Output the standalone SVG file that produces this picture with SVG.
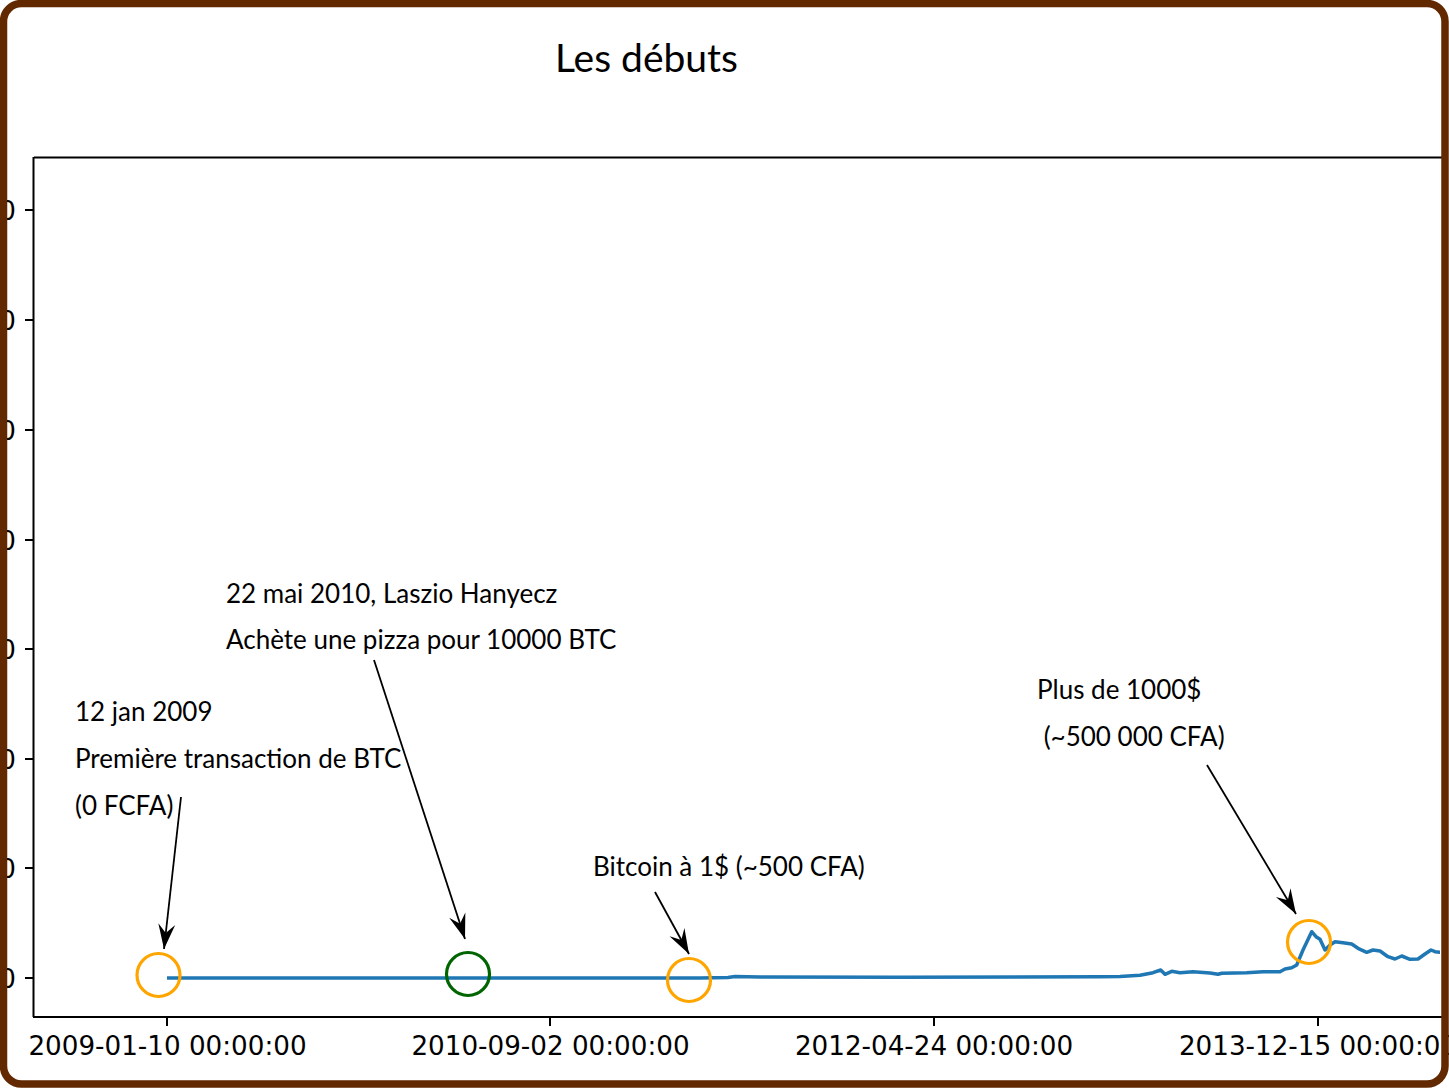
<svg xmlns="http://www.w3.org/2000/svg" width="1449" height="1088" viewBox="0 0 1449 1088">
<style>
.ann{font-family:Lato,"Liberation Sans",sans-serif;font-size:26px;fill:#000}
.tick{font-family:"DejaVu Sans",sans-serif;font-size:26.2px;fill:#000}
.spine{stroke:#000;stroke-width:2;fill:none}
.arr{stroke:#000;stroke-width:1.8;fill:none;marker-end:url(#ah)}
.ring{fill:none;stroke-width:3.2}
</style>
<defs>
<marker id="ah" markerUnits="userSpaceOnUse" markerWidth="30" markerHeight="20" viewBox="-26 -10 28 20" refX="0" refY="0" orient="auto">
<path d="M0,0 L-25,-8.5 L-16,0 L-25,8.5 Z" fill="#000"/>
</marker>
<clipPath id="plot"><rect x="34" y="157" width="1406" height="860"/></clipPath>
</defs>
<rect x="0" y="0" width="1449" height="1088" fill="#fff"/>
<text x="646.5" y="72" text-anchor="middle" style="font-family:Lato,'Liberation Sans',sans-serif;font-size:39px">Les débuts</text>
<g id="axes">
<path class="spine" d="M34,157.5 H1442 M33.5,157 V1017 M33,1017 H1442"/>
<g stroke="#000" stroke-width="2">
<path d="M25,210 H34 M25,320 H34 M25,430 H34 M25,540 H34 M25,649 H34 M25,759 H34 M25,868 H34 M25,978 H34"/>
<path d="M167,1017 V1026 M550,1017 V1026 M934,1017 V1026 M1318,1017 V1026"/>
</g>
<g class="tick" text-anchor="end">
<text x="16" y="220">0</text><text x="16" y="330">0</text><text x="16" y="440">0</text><text x="16" y="550">0</text>
<text x="16" y="659">0</text><text x="16" y="769">0</text><text x="16" y="878">0</text><text x="16" y="988">0</text>
</g>
<g class="tick" text-anchor="middle">
<text x="167.5" y="1055">2009-01-10 00:00:00</text>
<text x="550.5" y="1055">2010-09-02 00:00:00</text>
<text x="934" y="1055">2012-04-24 00:00:00</text>
<text x="1318" y="1055">2013-12-15 00:00:00</text>
</g>
</g>
<g id="series" clip-path="url(#plot)">
<polyline fill="none" stroke="#1f77b4" stroke-width="3.5" stroke-linejoin="round" points="167,978 700,978 728,977.5 735,976.5 760,977 900,977.3 1100,976.7 1120,976.5 1140,975.3 1153,972.7 1160.7,970 1165,974.3 1171.7,971.3 1180,972.7 1193,971.7 1210,973 1218,974.3 1221.7,973.3 1246.7,972.7 1263,971.7 1280,971.7 1285,969 1291.7,967.7 1296.7,965 1303,950 1311.7,931.7 1316,936.7 1320,939.3 1325,950 1330,945 1335,941.7 1343,942.7 1351.7,944 1358,948.3 1366.7,952.3 1373,950 1380,951 1388,956.7 1395,959 1401.7,956 1410,959.3 1418,959 1425,954 1431,950 1435,951.7 1440,952.3 1449,952"/>
</g>
<g id="n1">
<circle class="ring" cx="158.5" cy="975" r="21.5" stroke="#FFA500"/>
<text class="ann" x="75" y="721">12 jan 2009</text>
<text class="ann" x="75" y="768">Première transaction de BTC</text>
<text class="ann" x="75" y="815">(0 FCFA)</text>
</g>
<g id="n2">
<circle class="ring" cx="468" cy="974" r="21.5" stroke="#006400"/>
<text class="ann" x="226" y="603">22 mai 2010, Laszio Hanyecz</text>
<text class="ann" x="226" y="649">Achète une pizza pour 10000 BTC</text>
</g>
<g id="n3">
<circle class="ring" cx="689" cy="980" r="21.5" stroke="#FFA500"/>
<text class="ann" x="593" y="876">Bitcoin à 1$ (~500 CFA)</text>
</g>
<g id="n4">
<circle class="ring" cx="1309" cy="942" r="21.5" stroke="#FFA500"/>
<text class="ann" x="1037" y="699">Plus de 1000$</text>
<text class="ann" x="1037" y="746" xml:space="preserve"> (~500 000 CFA)</text>
</g>
<g id="connectors">
<line class="arr" x1="181" y1="797" x2="164" y2="949"/>
<line class="arr" x1="374" y1="660" x2="465" y2="939"/>
<line class="arr" x1="655" y1="892" x2="689" y2="954"/>
<line class="arr" x1="1207" y1="765" x2="1296" y2="914"/>
</g>
<rect x="3.5" y="3.5" width="1441.5" height="1080.5" rx="18" ry="18" fill="none" stroke="#622800" stroke-width="7.5"/>
</svg>
